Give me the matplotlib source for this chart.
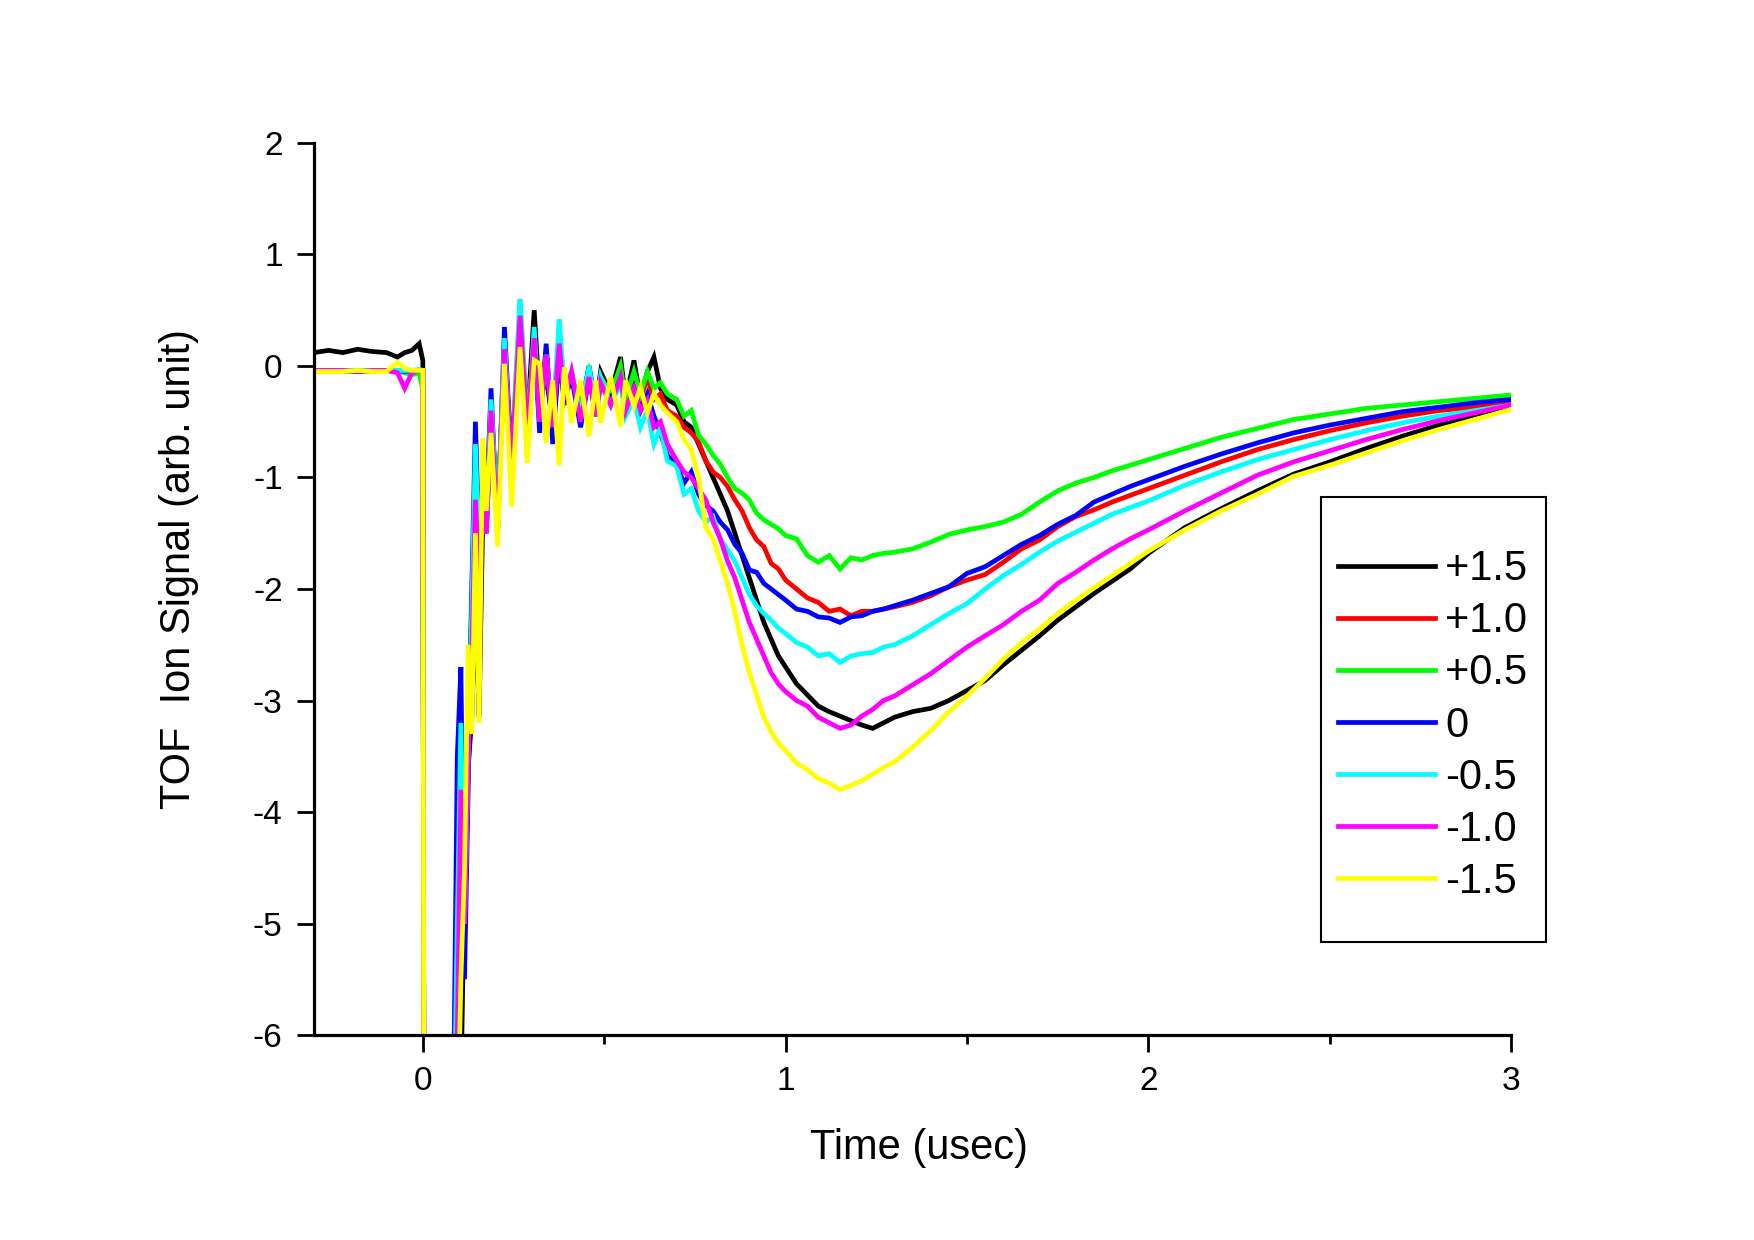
import matplotlib
matplotlib.use("Agg")
import matplotlib.pyplot as plt
from matplotlib.patches import Rectangle
from matplotlib.ticker import MultipleLocator

plt.rcParams["font.family"] = ["Liberation Sans", "DejaVu Sans"]
plt.rcParams["axes.unicode_minus"] = False

# ---------------- data ----------------
time_us = [
    -0.30, -0.26, -0.22, -0.18, -0.14, -0.10, -0.07, -0.05, -0.03, -0.01, 0.00, 0.003,
    0.085, 0.095, 0.105, 0.115, 0.125, 0.135, 0.145, 0.155, 0.165, 0.175,
    0.188, 0.206, 0.225, 0.245, 0.268, 0.288, 0.307, 0.322, 0.34, 0.358,
    0.376, 0.39, 0.41, 0.435, 0.458, 0.477, 0.49, 0.518, 0.545, 0.559,
    0.582, 0.60, 0.619, 0.637, 0.655, 0.674,
    0.70, 0.72, 0.74, 0.76, 0.78, 0.80, 0.82, 0.84, 0.86, 0.88, 0.90, 0.92, 0.94, 0.96, 0.98, 1.00,
    1.03, 1.06, 1.09, 1.12, 1.15, 1.18, 1.21, 1.24, 1.27, 1.30,
    1.35, 1.40, 1.45, 1.50, 1.55, 1.60, 1.65, 1.70, 1.75, 1.80, 1.85, 1.90, 1.95, 2.00,
    2.10, 2.20, 2.30, 2.40, 2.50, 2.60, 2.70, 2.80, 2.90, 3.00,
]

sig_p15 = [
    0.12, 0.14, 0.12, 0.15, 0.13, 0.12, 0.08, 0.12, 0.14, 0.20, 0.05, -7,
    -7, -7, -6.5, -4.6, -3.6, -3.15, -2.0, -3.15, -1.4, -1.5,
    -0.5, -1.3, 0.0, -0.8, 0.3, -0.5, 0.5, -0.3, -0.1, -0.5,
    0.05, -0.3, -0.1, -0.4, 0.0, -0.35, -0.05, -0.25, 0.08, -0.3,
    0.05, -0.3, -0.05, 0.08, -0.2, -0.3,
    -0.35, -0.5, -0.55, -0.7, -0.85, -1.0, -1.15, -1.3, -1.5, -1.7, -1.9, -2.1, -2.3, -2.45, -2.6, -2.7,
    -2.85, -2.95, -3.05, -3.1, -3.14, -3.18, -3.22, -3.25, -3.2, -3.15,
    -3.1, -3.07, -3.0, -2.91, -2.82, -2.68, -2.55, -2.42, -2.28, -2.16, -2.04, -1.93, -1.82, -1.68,
    -1.45, -1.28, -1.12, -0.97, -0.86, -0.74, -0.63, -0.53, -0.44, -0.35,
]
sig_p10 = [
    -0.04, -0.04, -0.05, -0.04, -0.04, -0.04, -0.05, -0.04, -0.05, -0.04, -0.04, -7,
    -7, -5.0, -3.5, -4.5, -3.0, -2.2, -0.9, -1.8, -0.9, -1.4,
    -0.3, -1.4, 0.2, -0.9, 0.3, -0.6, 0.3, -0.5, 0.15, -0.6,
    0.15, -0.35, -0.05, -0.5, -0.05, -0.4, -0.1, -0.3, -0.05, -0.35,
    -0.1, -0.3, -0.1, -0.3, -0.25, -0.4,
    -0.45, -0.55, -0.6, -0.68, -0.85, -0.95, -1.0, -1.08, -1.2, -1.3, -1.45, -1.56, -1.62, -1.77, -1.82, -1.92,
    -2.0, -2.08, -2.12, -2.2, -2.18, -2.24, -2.2, -2.2, -2.18, -2.16,
    -2.12, -2.06, -1.98, -1.92, -1.87, -1.76, -1.64, -1.56, -1.44, -1.35, -1.29, -1.22, -1.16, -1.10,
    -0.98, -0.86, -0.75, -0.66, -0.58, -0.51, -0.45, -0.40, -0.37, -0.33,
]
sig_p05 = [
    -0.05, -0.05, -0.05, -0.05, -0.05, -0.04, -0.05, -0.06, -0.08, -0.06, -0.22, -7,
    -7, -5.5, -4.0, -4.8, -3.2, -2.0, -1.0, -1.7, -1.2, -1.5,
    -0.4, -1.3, 0.1, -0.8, 0.6, -0.5, 0.2, -0.4, 0.1, -0.4,
    0.05, -0.3, -0.1, -0.35, -0.05, -0.3, -0.1, -0.25, 0.0, -0.3,
    -0.05, -0.25, -0.05, -0.2, -0.15, -0.25,
    -0.3, -0.45, -0.4, -0.62, -0.7, -0.8, -0.88, -1.0, -1.1, -1.14, -1.2, -1.32, -1.38, -1.42, -1.46, -1.52,
    -1.55, -1.7, -1.76, -1.7, -1.82, -1.72, -1.74, -1.7, -1.68, -1.67,
    -1.64, -1.58, -1.51, -1.47, -1.44, -1.40, -1.33, -1.22, -1.12, -1.05, -1.0, -0.94, -0.89, -0.84,
    -0.74, -0.64, -0.56, -0.48, -0.43, -0.38, -0.35, -0.32, -0.29, -0.26,
]
sig_0 = [
    -0.04, -0.04, -0.04, -0.05, -0.04, -0.04, -0.04, -0.05, -0.04, -0.04, -0.04, -7,
    -6.5, -3.5, -2.7, -5.5, -3.8, -2.0, -0.5, -1.6, -1.0, -1.3,
    -0.2, -1.5, 0.35, -0.9, 0.3, -0.7, 0.25, -0.6, 0.2, -0.7,
    0.1, -0.3, -0.1, -0.55, -0.1, -0.45, -0.15, -0.3, -0.12, -0.42,
    -0.2, -0.4, -0.25, -0.45, -0.6, -0.8,
    -0.9, -1.05, -0.95, -1.15, -1.25, -1.3, -1.4, -1.47, -1.6, -1.68, -1.83, -1.85, -1.95, -2.0, -2.05, -2.1,
    -2.18, -2.2, -2.25, -2.26, -2.3, -2.25, -2.24, -2.2, -2.18, -2.15,
    -2.1, -2.04, -1.98, -1.86, -1.8, -1.7, -1.6, -1.52, -1.42, -1.34, -1.22, -1.15, -1.08, -1.02,
    -0.90, -0.79, -0.69, -0.60, -0.53, -0.47, -0.41, -0.37, -0.33, -0.30,
]
sig_m05 = [
    -0.04, -0.04, -0.04, -0.04, -0.04, -0.04, -0.04, -0.04, -0.04, -0.03, -0.04, -7,
    -7, -5.0, -3.2, -5.0, -3.5, -2.2, -0.7, -1.7, -1.1, -1.4,
    -0.3, -1.4, 0.25, -1.0, 0.6, -0.7, 0.35, -0.5, 0.1, -0.5,
    0.42, -0.2, -0.05, -0.45, 0.0, -0.4, -0.1, -0.35, -0.15, -0.45,
    -0.3, -0.55, -0.4, -0.7, -0.55, -0.85,
    -0.9, -1.15, -1.1, -1.3, -1.4, -1.35, -1.55, -1.65, -1.75, -1.9, -2.05, -2.15, -2.22, -2.28, -2.35, -2.4,
    -2.48, -2.52, -2.6, -2.58, -2.66, -2.6, -2.58, -2.57, -2.52, -2.5,
    -2.42, -2.32, -2.22, -2.13, -2.0, -1.88, -1.78, -1.67, -1.57, -1.49, -1.41, -1.33, -1.27, -1.21,
    -1.07, -0.95, -0.84, -0.75, -0.66, -0.58, -0.51, -0.45, -0.40, -0.35,
]
sig_m10 = [
    -0.04, -0.04, -0.04, -0.05, -0.04, -0.04, -0.06, -0.20, -0.06, -0.04, -0.04, -7,
    -7, -6.0, -3.8, -5.0, -3.5, -2.6, -1.2, -1.9, -1.3, -1.5,
    -0.4, -1.5, 0.15, -0.9, 0.45, -0.6, 0.25, -0.5, 0.1, -0.55,
    0.2, -0.3, -0.05, -0.5, -0.1, -0.45, -0.15, -0.35, -0.1, -0.4,
    -0.2, -0.4, -0.3, -0.55, -0.5, -0.7,
    -0.85, -0.95, -1.0, -1.1, -1.2, -1.4, -1.55, -1.75, -1.9, -2.1, -2.3, -2.45, -2.6, -2.75, -2.85, -2.92,
    -3.0, -3.05, -3.15, -3.2, -3.25, -3.22, -3.14, -3.08, -3.0, -2.96,
    -2.86, -2.76, -2.64, -2.52, -2.42, -2.32, -2.2, -2.1, -1.95, -1.85, -1.74, -1.64, -1.55, -1.47,
    -1.30, -1.14, -0.98, -0.86, -0.76, -0.66, -0.57, -0.49, -0.42, -0.35,
]
sig_m15 = [
    -0.05, -0.05, -0.05, -0.04, -0.05, -0.05, 0.03, -0.02, -0.04, -0.04, -0.04, -7,
    -7, -7, -5.5, -4.5, -2.5, -3.3, -1.5, -3.2, -0.65, -1.3,
    -0.6, -1.62, 0.02, -1.26, 0.17, -0.87, 0.05, 0.02, -0.69, -0.13,
    -0.89, -0.01, -0.51, -0.13, -0.63, -0.13, -0.51, -0.1, -0.54, -0.13,
    -0.36, -0.19, -0.42, -0.25, -0.35, -0.42,
    -0.5, -0.66, -0.75, -1.0, -1.45, -1.55, -1.75, -1.95, -2.2, -2.5, -2.75, -2.95, -3.15, -3.28, -3.38, -3.45,
    -3.56, -3.62, -3.7, -3.74, -3.8, -3.76, -3.72, -3.66, -3.6, -3.55,
    -3.42, -3.27, -3.1, -2.96, -2.8, -2.63, -2.48, -2.36, -2.22, -2.1, -1.99, -1.88, -1.77, -1.66,
    -1.47, -1.30, -1.15, -0.99, -0.89, -0.78, -0.67, -0.57, -0.48, -0.39,
]

labels = ["+1.5", "+1.0", "+0.5", "0", "-0.5", "-1.0", "-1.5"]
colors = ["#000000", "#FF0000", "#00FF00", "#0000FF", "#00FFFF", "#FF00FF", "#FFFF00"]
series = [sig_p15, sig_p10, sig_p05, sig_0, sig_m05, sig_m10, sig_m15]

# ---------------- figure ----------------
fig = plt.figure(figsize=(17.54, 12.40), dpi=100)
ax = fig.add_axes([0.179, 0.1653, 0.6826, 0.7194])

for y, c, lab in zip(series, colors, labels):
    ax.plot(time_us, y, color=c, lw=3.4, label=lab, solid_joinstyle="miter")

ax.set_xlim(-0.3, 3.0)
ax.set_ylim(-6, 2)
ax.xaxis.set_major_locator(MultipleLocator(1))
ax.xaxis.set_minor_locator(MultipleLocator(0.5))
ax.yaxis.set_major_locator(MultipleLocator(1))

for s in ["top", "right"]:
    ax.spines[s].set_visible(False)
for s in ["left", "bottom"]:
    ax.spines[s].set_linewidth(2.3)

ax.tick_params(axis="both", which="major", direction="out", length=12.5, width=2.0,
               labelsize=24, pad=10)
ax.tick_params(axis="x", which="minor", direction="out", length=6.5, width=2.0)

ax.set_xlabel("Time (usec)", fontsize=30)
ax.set_ylabel("TOF  Ion Signal (arb. unit)", fontsize=30)
ax.xaxis.set_label_coords(0.505, -0.104)
ax.yaxis.set_label_coords(-0.096, 0.522)

# legend, with a taller frame drawn by hand
leg = ax.legend(loc="upper left", bbox_to_anchor=(0.7628, 0.557),
                bbox_transform=fig.transFigure, frameon=False, fontsize=30,
                handlelength=2.33, handletextpad=0.25, labelspacing=0.29,
                borderpad=0, borderaxespad=0)
for h in leg.get_lines():
    h.set_linewidth(3.4)

fig.patches.append(Rectangle((0.7532, 0.2403), 0.1283, 0.3589, transform=fig.transFigure,
                             fill=False, edgecolor="black", linewidth=1.5))

fig.savefig("out.png", dpi=100)
